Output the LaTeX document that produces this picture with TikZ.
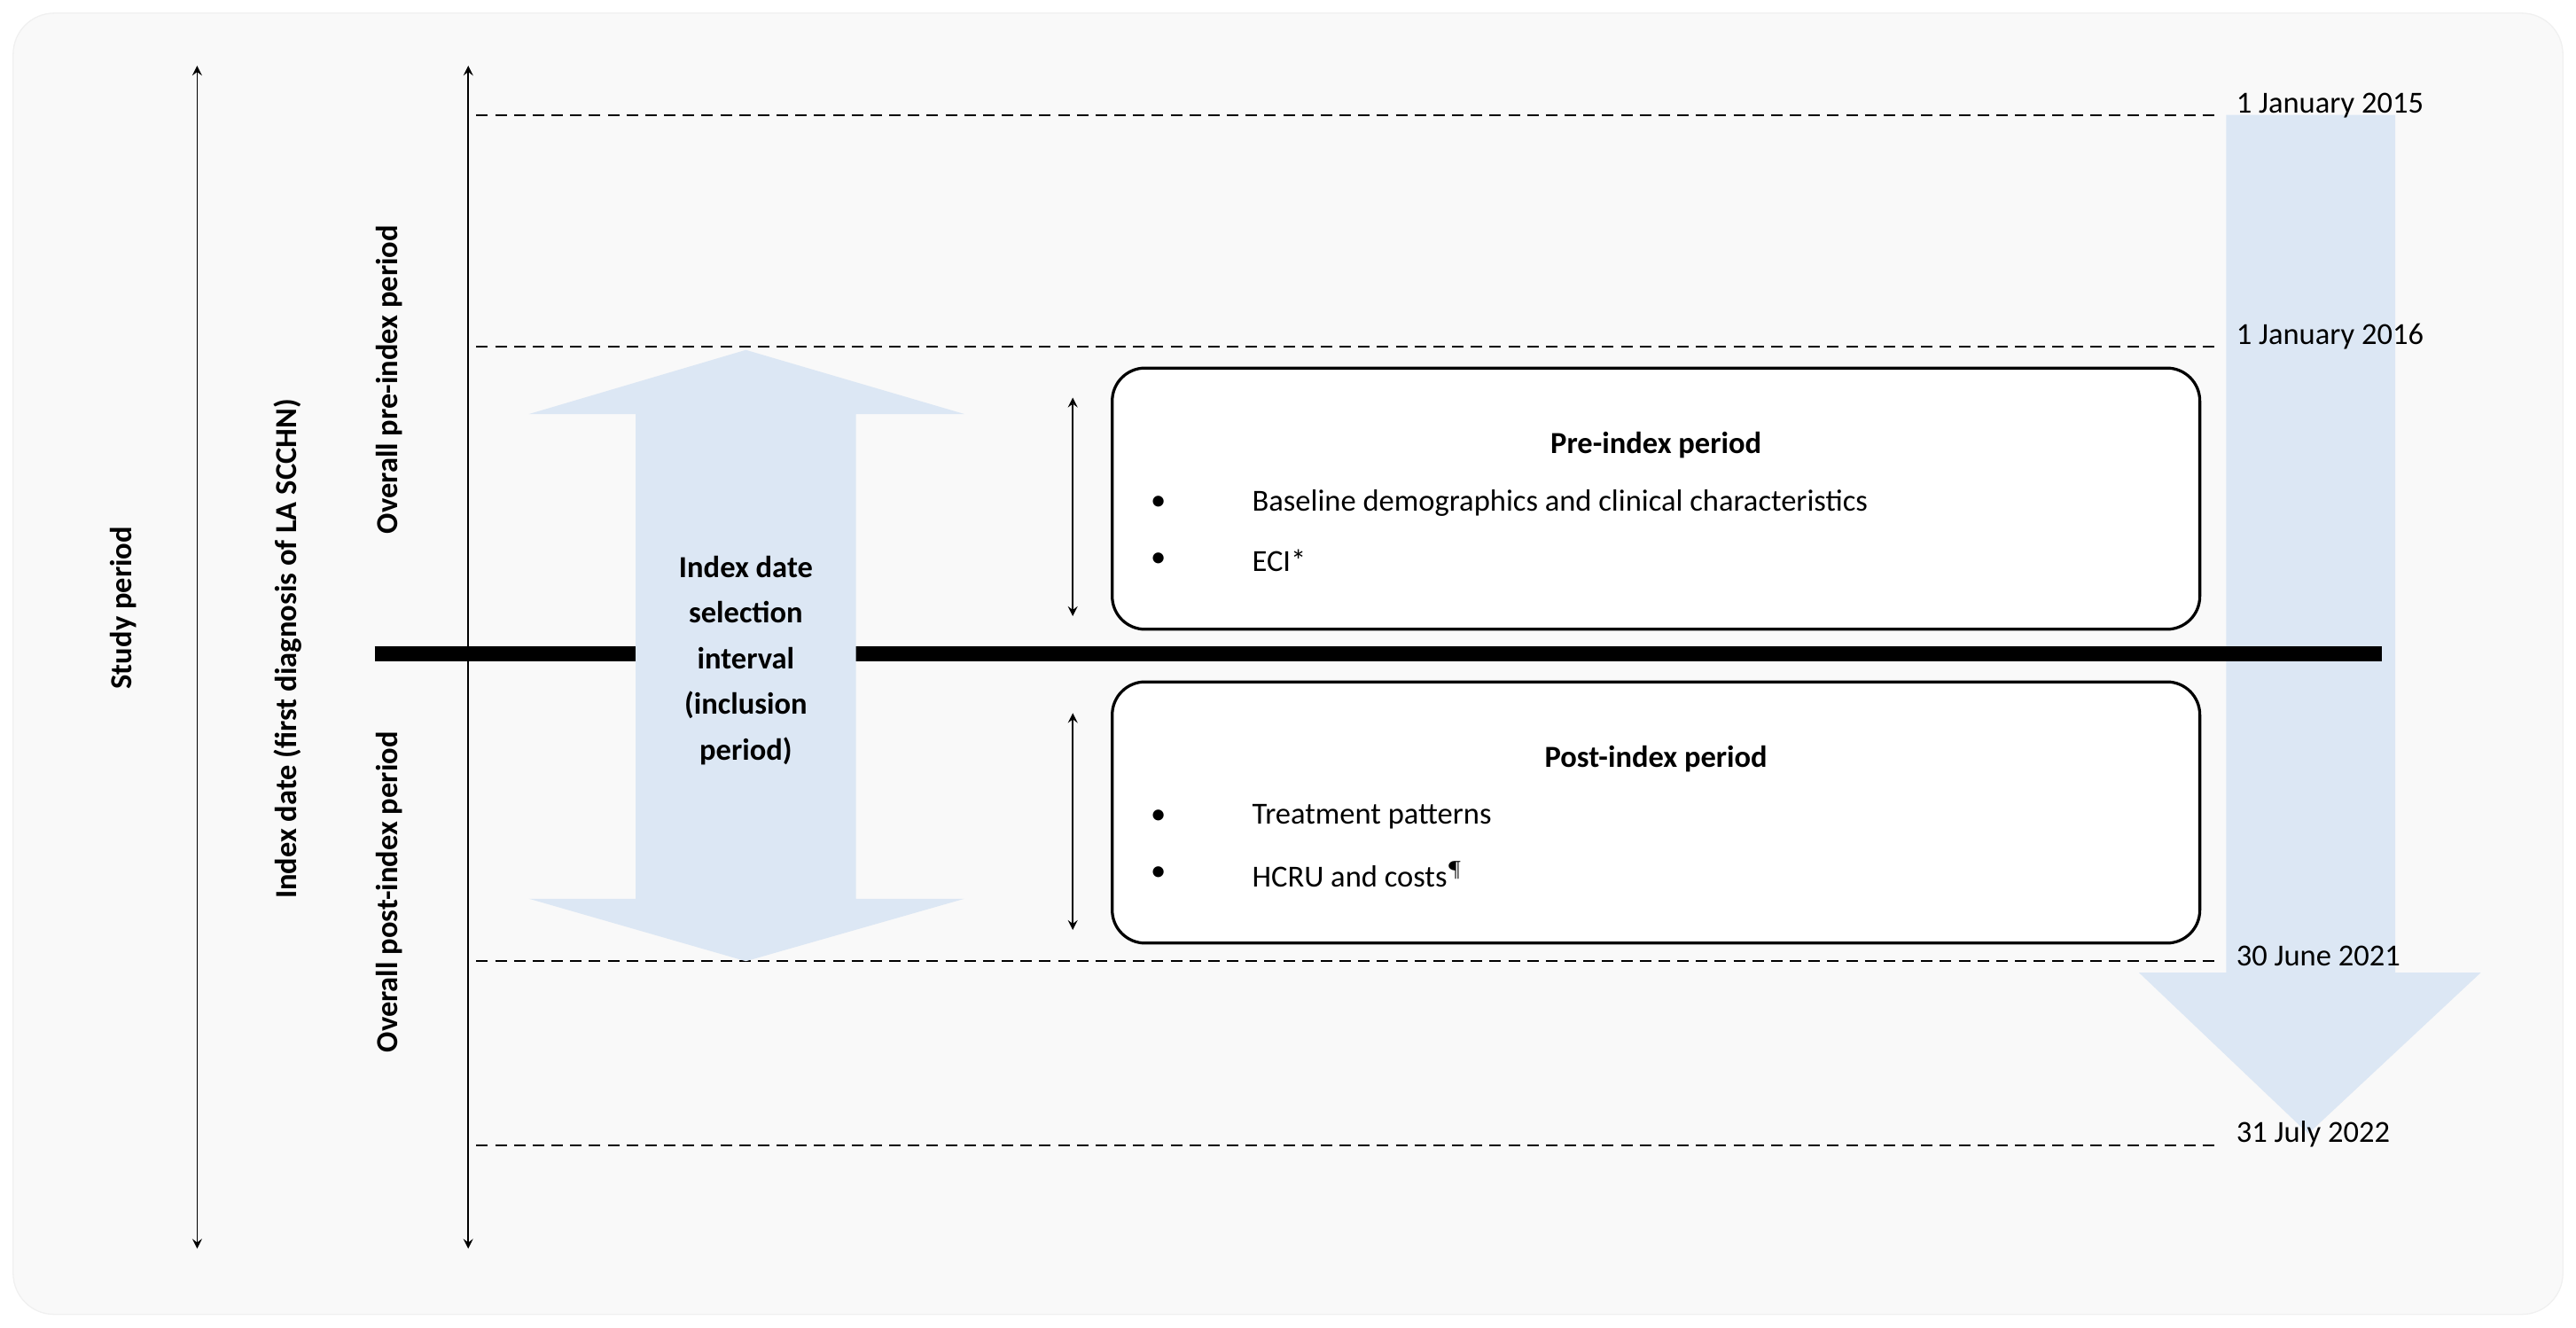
\documentclass[tikz,border=0pt]{standalone}
\usepackage{fontspec}
\setmainfont{Carlito}
\begin{document}
\begin{tikzpicture}[x=0.02cm,y=-0.02cm,
  every node/.style={font=\fontsize{10.6}{13}\selectfont},
  dline/.style={line width=0.5pt,dash pattern=on 4pt off 2.5pt},
  va/.style={<->,>=stealth,line width=0.5pt},
  box/.style={draw,line width=1pt,rounded corners=0.4cm},
  bluefill/.style={fill=arrowblue,draw=none}]
\definecolor{arrowblue}{HTML}{DCE7F4}
\definecolor{bg}{HTML}{F9F9F9}
\useasboundingbox (0,0) rectangle (1568,808);
\path[fill=bg,draw=gray!12,rounded corners=0.5cm] (8,8) rectangle (1560,800);
% down arrow
\fill[bluefill] (1355,70) -- (1458,70) -- (1458,592) -- (1510,592) -- (1405,690) -- (1302,592) -- (1355,592) -- cycle;
% dashed lines
\coordinate (d1a) at (290,70); \coordinate (d1b) at (1350,70);
\coordinate (d2a) at (290,211); \coordinate (d2b) at (1350,211);
\coordinate (d3a) at (290,585); \coordinate (d3b) at (1350,585);
\coordinate (d4a) at (290,697); \coordinate (d4b) at (1350,697);
\draw[dline] (d1a)--(d1b); \draw[dline] (d2a)--(d2b);
\draw[dline] (d3a)--(d3b); \draw[dline] (d4a)--(d4b);
\node[anchor=west] (l1) at (1355,64) {1 January 2015};
\node[anchor=west] (l2) at (1355,205) {1 January 2016};
\node[anchor=west] (l3) at (1355,582) {30 June 2021};
\node[anchor=west] (l4) at (1355,690) {31 July 2022};
% thick line
\coordinate (ta) at (228,398); \coordinate (tb) at (1450,398);
\draw[line width=5pt] (ta)--(tb);
% double arrow
\fill[bluefill] (387,252) -- (322,252) -- (454,213) -- (587,252) -- (521,252) -- (521,547) -- (587,547) -- (454,585) -- (322,547) -- (387,547) -- cycle;
\node[font=\fontsize{10.6}{15.8}\selectfont\bfseries,align=center] (ids) at (454,402) {Index date\\selection\\interval\\(inclusion\\period)};
% vertical arrows
\coordinate (v1a) at (120,40); \coordinate (v1b) at (120,760);
\coordinate (v2a) at (285,40); \coordinate (v2b) at (285,760);
\draw[va] (v1a)--(v1b); \draw[va] (v2a)--(v2b);
\coordinate (s1a) at (653,242); \coordinate (s1b) at (653,375);
\coordinate (s2a) at (653,434); \coordinate (s2b) at (653,566);
\draw[va] (s1a)--(s1b); \draw[va] (s2a)--(s2b);
\node[rotate=90,font=\fontsize{10.6}{13}\selectfont\bfseries] (sp) at (75,370) {Study period};
\node[rotate=90,font=\fontsize{10.6}{13}\selectfont\bfseries] (idx) at (175,395) {Index date (first diagnosis of LA SCCHN)};
\node[rotate=90,font=\fontsize{10.6}{13}\selectfont\bfseries] (pre) at (237,231) {Overall pre-index period};
\node[rotate=90,font=\fontsize{10.6}{13}\selectfont\bfseries] (post) at (237,543) {Overall post-index period};
% boxes
\draw[box,fill=white] (677,224) rectangle (1339,383);
\draw[box,fill=white] (677,415) rectangle (1339,574);
\node[font=\fontsize{10.6}{13}\selectfont\bfseries] (t1) at (1008,271) {Pre-index period};
\node (b1) at (705,306) {•}; \node[anchor=west] (x1) at (756,306) {Baseline demographics and clinical characteristics};
\node (b2) at (705,341) {•}; \node[anchor=west] (x2) at (756,341) {ECI*};
\node[font=\fontsize{10.6}{13}\selectfont\bfseries] (t2) at (1008,462) {Post-index period};
\node (b3) at (705,497) {•}; \node[anchor=west] (x3) at (756,497) {Treatment patterns};
\node (b4) at (705,532) {•}; \node[anchor=west] (x4) at (756,532) {HCRU and costs$^{\P}$};
\end{tikzpicture}
\end{document}
